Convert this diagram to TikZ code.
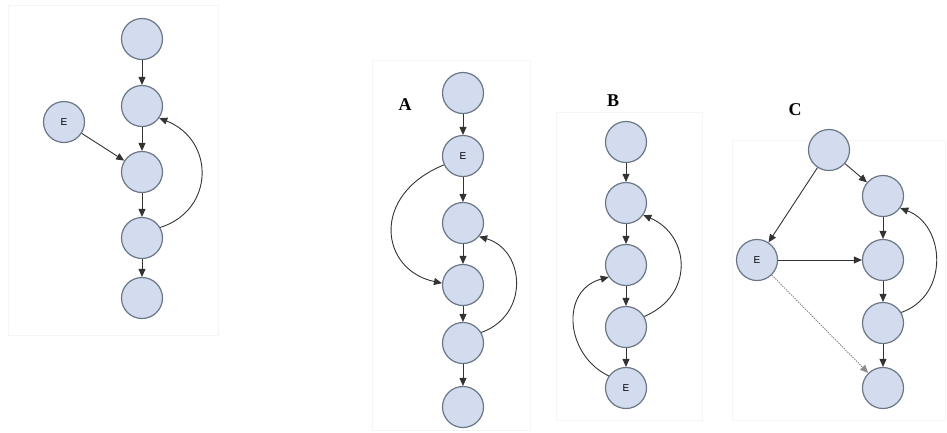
\documentclass[tikz,border=0pt]{standalone}
\usepackage{fontspec}
\setmainfont{Liberation Serif}
\setsansfont{Liberation Sans}
\usetikzlibrary{arrows.meta}
\definecolor{nodefill}{HTML}{D2DCEE}
\definecolor{nodeline}{HTML}{6A7686}
\definecolor{edgecol}{HTML}{333333}
\begin{document}
\begin{tikzpicture}[x=1pt,y=-1pt,
  vtx/.style={circle,draw=nodeline,fill=nodefill,line width=1.2pt,minimum size=41pt,inner sep=0pt,font=\sffamily\fontsize{10}{10}\selectfont},
  edge/.style={draw=edgecol,line width=0.9pt,-{Triangle[length=8pt,width=7pt]}},
  dotedge/.style={edge,draw=black!45,dash pattern=on 1.5pt off 1pt},
  frame/.style={draw=black!4,line width=0.6pt},
  lbl/.style={font=\bfseries\fontsize{18}{18}\selectfont}]
\useasboundingbox (0,0) rectangle (947,432);
% faint frames
\draw[frame] (8,5) rectangle (218,335);
\draw[frame] (372,60) rectangle (530,430);
\draw[frame] (556,112) rectangle (702,420);
\draw[frame] (732,140) rectangle (945,420);
% panel 1
\node[vtx] (p1) at (142,39) {};
\node[vtx] (p2) at (142,106) {};
\node[vtx] (p3) at (142,172) {};
\node[vtx] (p4) at (142,238) {};
\node[vtx] (p5) at (142,298) {};
\node[vtx] (pe) at (64,122) {E};
\draw[edge] (p1) -- (p2);
\draw[edge] (p2) -- (p3);
\draw[edge] (p3) -- (p4);
\draw[edge] (p4) -- (p5);
\draw[edge] (pe) -- (p3);
\draw[edge] (p4.30) .. controls (215,210) and (215,140) .. (p2.-35);
% panel A
\node[lbl] (la) at (405,105) {A};
\node[vtx] (a1) at (463,93) {};
\node[vtx] (ae) at (463,156) {E};
\node[vtx] (a3) at (463,223) {};
\node[vtx] (a4) at (463,285) {};
\node[vtx] (a5) at (463,343) {};
\node[vtx] (a6) at (463,407) {};
\draw[edge] (a1) -- (ae);
\draw[edge] (ae) -- (a3);
\draw[edge] (a3) -- (a4);
\draw[edge] (a4) -- (a5);
\draw[edge] (a5) -- (a6);
\draw[edge] (ae.205) .. controls (370,195) and (380,270) .. (a4.175);
\draw[edge] (a5.30) .. controls (530,315) and (525,250) .. (a3.-40);
% panel B
\node[lbl] (lb) at (613,101) {B};
\node[vtx] (b1) at (626,142) {};
\node[vtx] (b2) at (626,203) {};
\node[vtx] (b3) at (626,265) {};
\node[vtx] (b4) at (626,327) {};
\node[vtx] (be) at (626,388) {E};
\draw[edge] (b1) -- (b2);
\draw[edge] (b2) -- (b3);
\draw[edge] (b3) -- (b4);
\draw[edge] (b4) -- (be);
\draw[edge] (b4.30) .. controls (695,295) and (690,235) .. (b2.-35);
\draw[edge] (be.145) .. controls (565,355) and (560,290) .. (b3.-145);
% panel C
\node[lbl] (lc) at (795,110) {C};
\node[vtx] (c1) at (829,150) {};
\node[vtx] (c2) at (883,196) {};
\node[vtx] (c3) at (883,260) {};
\node[vtx] (c4) at (883,323) {};
\node[vtx] (c5) at (883,388) {};
\node[vtx] (ce) at (757,260) {E};
\draw[edge] (c1) -- (c2);
\draw[edge] (c2) -- (c3);
\draw[edge] (c3) -- (c4);
\draw[edge] (c4) -- (c5);
\draw[edge] (c1) -- (ce);
\draw[edge] (ce) -- (c3);
\draw[dotedge] (ce) -- (c5);
\draw[edge] (c4.30) .. controls (950,295) and (945,225) .. (c2.-35);
\end{tikzpicture}
\end{document}
